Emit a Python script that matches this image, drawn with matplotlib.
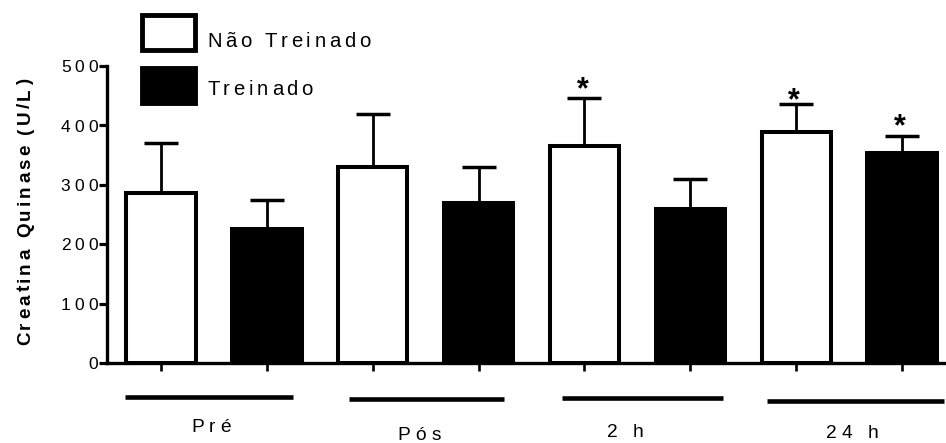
import numpy as np
import matplotlib
matplotlib.use("Agg")
import matplotlib.pyplot as plt
from matplotlib import font_manager as fm
from matplotlib.ft2font import FT2Font
from matplotlib.patches import Rectangle
from matplotlib.lines import Line2D

# ---------------- data ----------------
groups = ["Pré", "Pós", "2 h", "24 h"]
series_names = ["Não Treinado", "Treinado"]
nao_treinado = [286, 330, 366, 389]
nao_treinado_err = [84, 90, 80, 47]
treinado = [226, 269, 260, 354]
treinado_err = [48, 61, 49, 28]
# significance markers: (series index, group index, height of the star centre)
stars = [(0, 2, 474), (0, 3, 456), (1, 3, 413)]
yticks = [0, 100, 200, 300, 400, 500]
ylabel = "Creatina Quinase (U/L)"

# ---------------- figure ----------------
W, H, DPI = 946, 443, 100
plt.rcParams["font.family"] = ["Liberation Sans", "DejaVu Sans"]
fig = plt.figure(figsize=(W / DPI, H / DPI), dpi=DPI)

ax_left, ax_right, ax_top, ax_bottom = 107, 946, 66, 363
ax = fig.add_axes([ax_left / W, 1 - ax_bottom / H,
                   (ax_right - ax_left) / W, (ax_bottom - ax_top) / H])

n = len(groups)
x_nt = np.arange(n) * 2
x_t = np.arange(n) * 2 + 1
bw = 0.655
lw_bar = 2.9

ax.bar(x_nt, nao_treinado, width=bw, color="white", edgecolor="black",
       linewidth=lw_bar, zorder=3)
ax.bar(x_t, treinado, width=bw, color="black", edgecolor="black",
       linewidth=lw_bar, zorder=3)

for xs, vals, errs in [(x_nt, nao_treinado, nao_treinado_err),
                       (x_t, treinado, treinado_err)]:
    ax.errorbar(xs, vals, yerr=[np.zeros(n), errs], fmt="none", ecolor="black",
                elinewidth=2.0, capsize=12.5, capthick=2.5, zorder=2)

star_fs = 22
for s_idx, g_idx, yv in stars:
    xs = x_nt if s_idx == 0 else x_t
    ax.annotate("*", xy=(xs[g_idx], yv), xytext=(-1.5, -0.56 * star_fs),
                textcoords="offset points", ha="center", va="baseline",
                fontsize=star_fs, fontweight="bold", zorder=4)

ax.set_ylim(0, 500)
ax.set_xlim(-0.51, 7.415)
ax.set_yticks(yticks)
ax.set_yticklabels([])
ax.set_xticks(np.arange(2 * n))
ax.set_xticklabels([])
for sp in ["top", "right"]:
    ax.spines[sp].set_visible(False)
for sp in ["left", "bottom"]:
    ax.spines[sp].set_linewidth(2.4)
ax.tick_params(axis="y", direction="out", length=5.8, width=2.3)
ax.tick_params(axis="x", direction="out", length=6.0, width=1.9)

# ---------------- letter-spaced text helper ----------------
_font_cache = {}


def _advances(s, size, weight):
    if weight not in _font_cache:
        _font_cache[weight] = fm.findfont(
            fm.FontProperties(family="Liberation Sans", weight=weight))
    f = FT2Font(_font_cache[weight])
    f.set_size(size, DPI)
    out = []
    for c in s:
        g = f.load_char(ord(c))
        out.append(g.linearHoriAdvance / 65536.0)
    return out


def spaced_text(x, y, s, size, track, weight="normal", ha="center", rotation=0):
    """x, y in image pixels (origin top-left). y (or x if rotated) is the baseline."""
    advs = _advances(s, size, weight)
    total = sum(advs) + track * (len(s) - 1)
    pos = {"left": 0.0, "center": -total / 2.0, "right": -total}[ha]
    for c, a in zip(s, advs):
        if rotation == 0:
            px, py = x + pos, y
        else:
            px, py = x, y - pos
        fig.text(px / W, 1 - py / H, c, fontsize=size, fontweight=weight,
                 ha="left", va="baseline", rotation=rotation,
                 rotation_mode="anchor", color="black")
        pos += a + track


# y tick labels
for v in yticks:
    _, yd = ax.transData.transform((0, v))
    ypix = H - yd
    spaced_text(98, ypix + 6.2, str(v), 12.5, 4.1, ha="right")

# y label (rotated, bold)
spaced_text(30, 212, ylabel, 13.6, 3.0, weight="bold", rotation=90)

# group underlines and labels (layout in pixels)
group_lines = [(125, 293, 396.5), (349, 504, 398.5), (562, 723, 397.5), (767, 944, 401)]
label_pos = [(211, 432), (419, 440), (625, 437), (852, 438)]
for (x0, x1, yl), (lx, lb), g in zip(group_lines, label_pos, groups):
    fig.add_artist(Line2D([x0 / W, x1 / W], [1 - yl / H, 1 - yl / H],
                          transform=fig.transFigure, color="black", linewidth=3.3,
                          solid_capstyle="butt"))
    spaced_text(lx, lb, g, 13.8, 5.2, ha="center")

# legend
leg_boxes = [(142, 15, 195, 50, "white"), (142, 68, 195, 103, "black")]
leg_baselines = [47, 95]
for (x0, y0, x1, y1, col), bl, name in zip(leg_boxes, leg_baselines, series_names):
    fig.add_artist(Rectangle((x0 / W, 1 - y1 / H), (x1 - x0) / W, (y1 - y0) / H,
                             transform=fig.transFigure, facecolor=col,
                             edgecolor="black", linewidth=3.5))
    spaced_text(207, bl, name, 14.6, 3.7, ha="left")

fig.savefig("out.png", dpi=DPI)
